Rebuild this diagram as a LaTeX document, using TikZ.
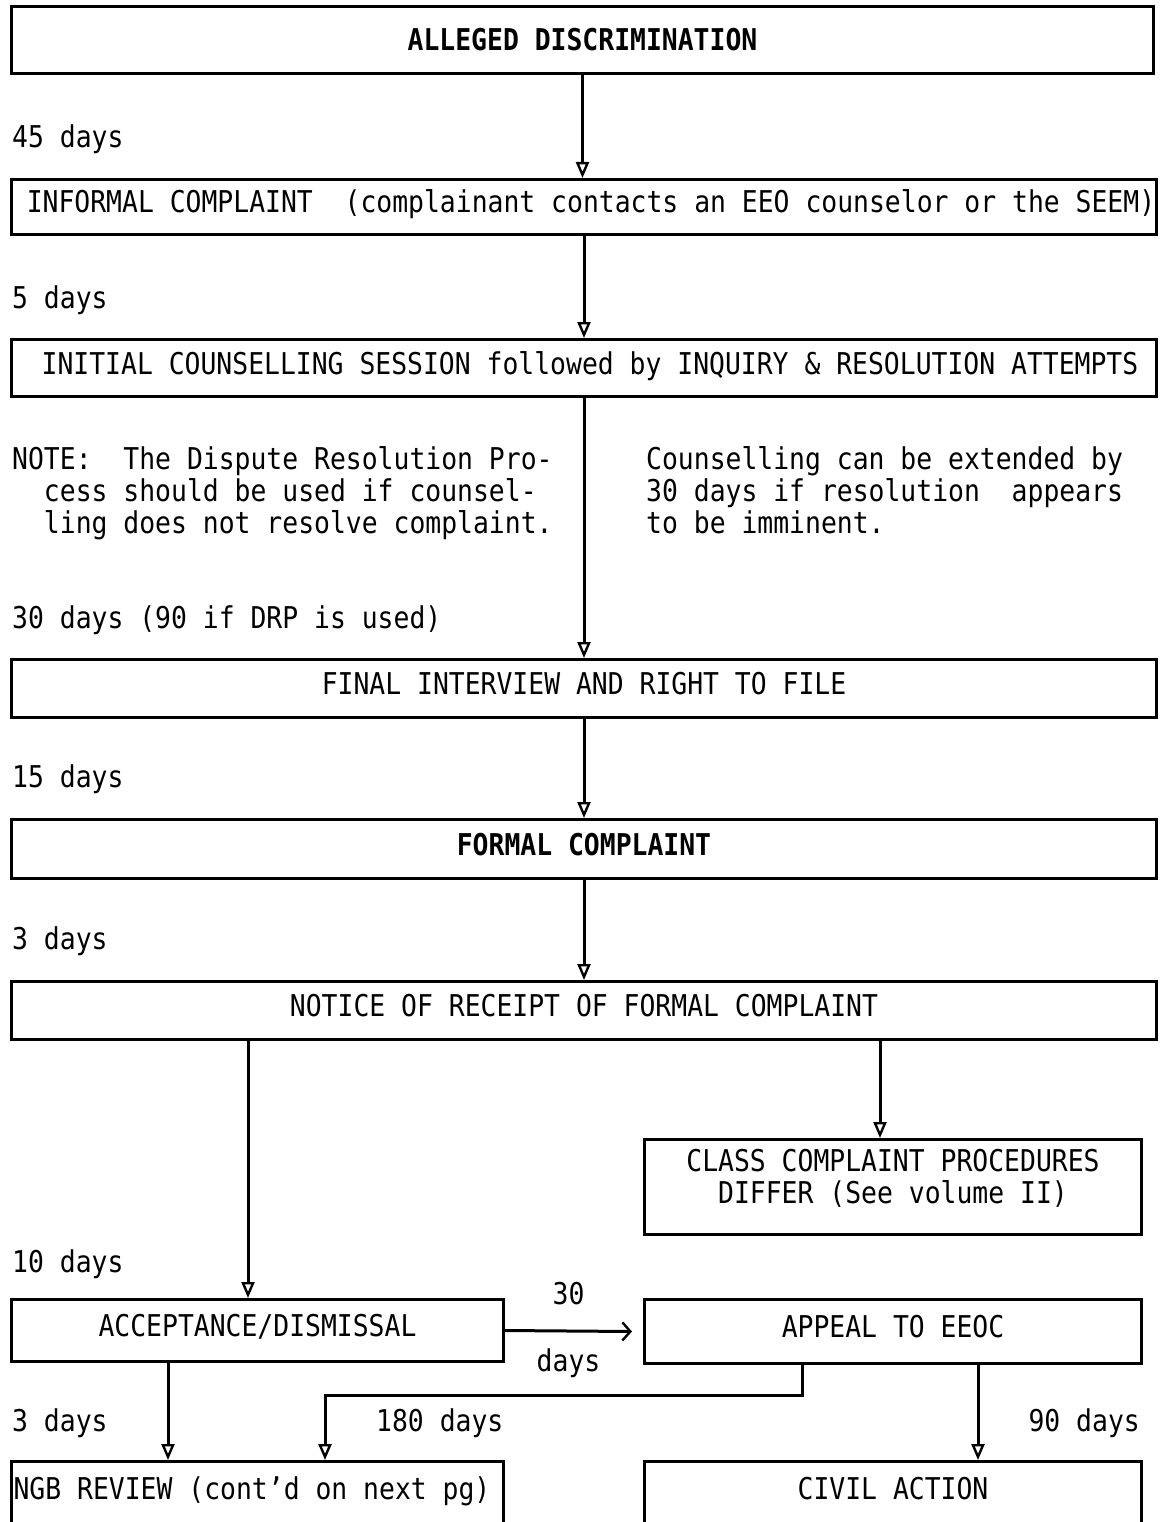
\documentclass[tikz,border=0pt]{standalone}
\usepackage{fontspec}
\newfontfamily\gothic[FakeStretch=0.88]{DejaVu Sans Mono}
\usepackage{tikz}
\usetikzlibrary{arrows.meta,positioning}
\frenchspacing

\begin{document}
\begin{tikzpicture}[x=1pt,y=-1pt,font=\gothic\fontsize{30}{32}\selectfont,
    box/.style={draw,line width=3pt,anchor=north west,inner sep=0pt},
    stepbox/.style={box,text height=22pt,text depth=10pt},
    flow/.style={line width=3pt,-{Triangle[open,length=16pt,width=13pt,line width=2.4pt]}},
    days/.style={anchor=base west,inner sep=0pt}]
    \useasboundingbox (0,0) rectangle (1159,1522);
    % ---------- main column ----------
    \node[stepbox,minimum width=1142pt,minimum height=67pt,text depth=0pt] (alleged) at (10,5) {\bfseries ALLEGED DISCRIMINATION};
    \node[days] (d45) at (12,148) {45 days};
    \node[stepbox,minimum width=1145pt,minimum height=55pt] (informal) at (10,178) {\hspace*{14pt}INFORMAL COMPLAINT~~(complainant contacts an EEO counselor or the SEEM)};
    \node[days] (d5) at (12,308) {5 days};
    \node[stepbox,minimum width=1145pt,minimum height=57pt] (initial) at (10,338) {\hspace*{12pt}INITIAL COUNSELLING SESSION followed by INQUIRY \& RESOLUTION ATTEMPTS};
    \foreach \txt [count=\i] in {{NOTE:~~The Dispute Resolution Pro-},{~~cess should be used if counsel-},{~~ling does not resolve complaint.}}
      \node[days] (noteL\i) at (12,{469+32*(\i-1)}) {\txt};
    \foreach \txt [count=\i] in {{Counselling can be extended by},{30 days if resolution~~appears},{to be imminent.}}
      \node[days] (noteR\i) at (646,{469+32*(\i-1)}) {\txt};
    \node[days] (d30) at (12,628) {30 days (90 if DRP is used)};
    \node[stepbox,minimum width=1145pt,minimum height=58pt] (final) at (10,658) {FINAL INTERVIEW AND RIGHT TO FILE};
    \node[days] (d15) at (12,787) {15 days};
    \node[stepbox,minimum width=1145pt,minimum height=59pt] (formal) at (10,818) {\bfseries FORMAL COMPLAINT};
    \node[days] (d3a) at (12,949) {3 days};
    \node[stepbox,minimum width=1145pt,minimum height=58pt] (notice) at (10,980) {NOTICE OF RECEIPT OF FORMAL COMPLAINT};
    \draw[flow] (alleged.south) -- (alleged.south |- informal.north);
    \draw[flow] (informal.south) -- (informal.south |- initial.north);
    \draw[flow] (initial.south) -- (initial.south |- final.north);
    \draw[flow] (final.south) -- (final.south |- formal.north);
    \draw[flow] (formal.south) -- (formal.south |- notice.north);
    % ---------- branches ----------
    \node[box,align=center,minimum width=497pt,minimum height=95pt] (classc) at (643,1138) {CLASS COMPLAINT PROCEDURES\\DIFFER (See volume II)\\[-10pt]};
    \node[days] (d10) at (12,1272) {10 days};
    \node[stepbox,minimum width=492pt,minimum height=62pt] (accept) at (10,1298) {ACCEPTANCE/DISMISSAL};
    \node[stepbox,minimum width=497pt,minimum height=64pt] (appeal) at (643,1298) {APPEAL TO EEOC};
    \node[days] (d3b) at (12,1431) {3 days};
    \node[days] (d180) at (376,1431) {180 days};
    \node[days,anchor=base east] (d90) at (1140,1431) {90 days};
    \node[stepbox,minimum width=492pt,minimum height=64pt] (ngb) at (10,1460) {NGB REVIEW (cont’d on next pg)\hspace*{11pt}};
    \node[stepbox,minimum width=497pt,minimum height=64pt] (civil) at (643,1460) {CIVIL ACTION};
    \coordinate (kL) at (248,0);
    \coordinate (kR) at (880,0);
    \coordinate (kA) at (168,0);
    \coordinate (kB) at (802,1395);
    \coordinate (kC) at (325,0);
    \coordinate (kD) at (978,0);
    \draw[flow] (notice.south -| kL) -- (accept.north -| kL);
    \draw[flow] (notice.south -| kR) -- (classc.north -| kR);
    \draw[line width=3pt,-{Straight Barb[length=8pt,width=18pt,line width=2.4pt]}] (accept.east) -- ([xshift=-11pt]appeal.west)
      node[midway,above=25pt,inner sep=0pt] (l30) {30}
      node[midway,below=16pt,inner sep=0pt] (ldays) {days};
    \draw[flow] (accept.south -| kA) -- (ngb.north -| kA);
    \draw[flow] (appeal.south -| kB) |- (kC |- kB) -- (ngb.north -| kC);
    \draw[flow] (appeal.south -| kD) -- (civil.north -| kD);
\end{tikzpicture}
\end{document}
